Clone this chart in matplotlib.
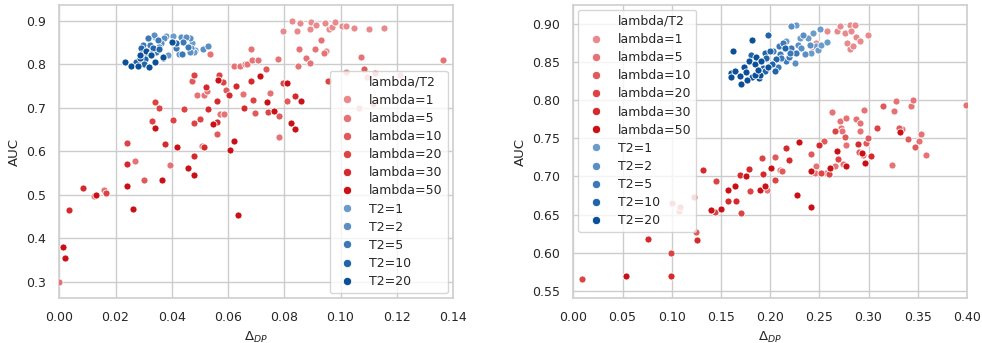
import matplotlib
matplotlib.use("Agg")
import matplotlib.pyplot as plt
from matplotlib.lines import Line2D
import seaborn as sns

# ---- data ----
lambda_levels = [1, 5, 10, 20, 30, 50]
t2_levels = [1, 2, 5, 10, 20]
lambda_colors = ["#e8898b", "#e67274", "#e0595b", "#dc4345", "#d42a2e", "#ca1017"]
t2_colors = ["#6b9bcb", "#5b8ec5", "#3a78b8", "#2164a8", "#0b4f97"]

# left panel, lambda runs
left_red_x = [0.000, 0.0014, 0.0021, 0.0035, 0.0084, 0.0130, 0.0125, 0.0158, 0.0167, 0.0240,
              0.0240, 0.0240, 0.0263, 0.0270, 0.0300, 0.0330, 0.0342, 0.0355, 0.0342, 0.0375,
              0.0365, 0.0393, 0.0404, 0.0417, 0.0445, 0.0457, 0.0472, 0.0478, 0.0479, 0.0480,
              0.0480, 0.0490, 0.0500, 0.0508, 0.0513, 0.0515, 0.0523, 0.0524, 0.0530, 0.0536,
              0.0547, 0.0562, 0.0563, 0.0562, 0.0561, 0.0568, 0.0570, 0.0582, 0.0586, 0.0594,
              0.0602, 0.0607, 0.0621, 0.0621, 0.0630, 0.0635, 0.0642, 0.0652, 0.0655, 0.0660,
              0.0681, 0.0669, 0.0685, 0.0708, 0.0683, 0.0714, 0.0735, 0.0690, 0.0695, 0.0738,
              0.0742, 0.0749, 0.0765, 0.0782, 0.0782, 0.0779, 0.0794, 0.0794, 0.0809, 0.0809,
              0.0825, 0.0837, 0.0838, 0.0859, 0.0828, 0.0846, 0.0856, 0.0851, 0.0848, 0.0876,
              0.0891, 0.0890, 0.0895, 0.0913, 0.0910, 0.0932, 0.0942, 0.0949, 0.0945, 0.0958,
              0.0968, 0.0982, 0.0954, 0.1007, 0.1021, 0.1047, 0.1100, 0.1156, 0.1073, 0.1082,
              0.1019, 0.1094, 0.1121, 0.1066, 0.1117, 0.1212, 0.1365]
left_red_y = [0.300, 0.380, 0.355, 0.465, 0.515, 0.500, 0.498, 0.510, 0.505, 0.620,
              0.570, 0.520, 0.468, 0.578, 0.535, 0.670, 0.713, 0.700, 0.653, 0.617,
              0.533, 0.568, 0.672, 0.611, 0.697, 0.562, 0.763, 0.776, 0.545, 0.590,
              0.665, 0.730, 0.675, 0.613, 0.610, 0.730, 0.748, 0.738, 0.697, 0.825,
              0.662, 0.715, 0.765, 0.667, 0.640, 0.776, 0.685, 0.760, 0.685, 0.742,
              0.730, 0.603, 0.623, 0.797, 0.751, 0.453, 0.797, 0.732, 0.699, 0.800,
              0.835, 0.802, 0.811, 0.811, 0.763, 0.774, 0.790, 0.717, 0.688, 0.713,
              0.690, 0.735, 0.693, 0.682, 0.633, 0.812, 0.877, 0.758, 0.757, 0.715,
              0.666, 0.651, 0.728, 0.715, 0.899, 0.877, 0.895, 0.835, 0.796, 0.815,
              0.803, 0.882, 0.897, 0.891, 0.835, 0.857, 0.826, 0.830, 0.895, 0.882,
              0.887, 0.897, 0.762, 0.889, 0.889, 0.885, 0.882, 0.885, 0.818, 0.790,
              0.783, 0.770, 0.780, 0.700, 0.710, 0.775, 0.810]
left_red_lam = [5, 50, 50, 30, 30, 50, 5, 5, 20, 20,
                30, 50, 50, 5, 10, 20, 20, 20, 50, 30,
                50, 5, 20, 50, 20, 50, 10, 20, 50, 30,
                20, 5, 20, 5, 30, 5, 30, 5, 30, 5,
                50, 30, 50, 30, 10, 20, 5, 20, 5, 10,
                30, 50, 50, 5, 30, 50, 5, 5, 30, 5,
                5, 5, 5, 5, 30, 50, 10, 20, 10, 50,
                20, 5, 50, 10, 5, 5, 1, 20, 50, 10,
                50, 50, 30, 50, 1, 1, 1, 5, 5, 5,
                5, 1, 1, 1, 5, 5, 5, 1, 1, 1,
                1, 1, 20, 1, 1, 1, 1, 1, 5, 10,
                1, 1, 5, 1, 5, 1, 5]

# left panel, T2 runs
left_blue_x = [0.0233, 0.0256, 0.0274, 0.0280, 0.0286, 0.0292, 0.0290, 0.0297, 0.0303, 0.0309,
               0.0319, 0.0315, 0.0321, 0.0327, 0.0333, 0.0339, 0.0342, 0.0350, 0.0356, 0.0368,
               0.0374, 0.0380, 0.0386, 0.0401, 0.0406, 0.0415, 0.0425, 0.0433, 0.0437, 0.0441,
               0.0457, 0.0469, 0.0466, 0.0484, 0.0510, 0.0527, 0.0316, 0.0336, 0.0431, 0.0451,
               0.0471, 0.0478, 0.0464, 0.0436, 0.0370, 0.0415, 0.0399, 0.0318, 0.0340, 0.0288,
               0.0325, 0.0354, 0.0300, 0.0290, 0.0310, 0.0345, 0.0360]
left_blue_y = [0.805, 0.797, 0.805, 0.797, 0.814, 0.825, 0.838, 0.845, 0.812, 0.831,
               0.794, 0.860, 0.845, 0.823, 0.837, 0.806, 0.864, 0.856, 0.841, 0.815,
               0.860, 0.866, 0.821, 0.852, 0.866, 0.837, 0.825, 0.864, 0.823, 0.852,
               0.841, 0.837, 0.860, 0.833, 0.835, 0.843, 0.862, 0.868, 0.864, 0.863,
               0.850, 0.828, 0.829, 0.825, 0.817, 0.850, 0.852, 0.793, 0.805, 0.822,
               0.822, 0.835, 0.800, 0.805, 0.818, 0.828, 0.850]
left_blue_t2 = [20, 20, 10, 20, 20, 20, 10, 5, 10, 20,
                20, 5, 5, 20, 10, 20, 2, 5, 5, 20,
                2, 1, 1, 20, 1, 5, 2, 2, 1, 5,
                5, 2, 2, 1, 2, 2, 5, 2, 2, 2,
                1, 1, 2, 5, 20, 10, 10, 20, 20, 20,
                20, 10, 10, 5, 5, 5, 2]

# right panel, lambda runs
right_red_x = [0.0085, 0.0534, 0.0761, 0.0988, 0.0991, 0.1001, 0.1069, 0.1082, 0.1231, 0.1245,
               0.1255, 0.1319, 0.1450, 0.1397, 0.1437, 0.1498, 0.1572, 0.1572, 0.1640, 0.1650,
               0.1700, 0.1697, 0.1752, 0.1785, 0.1799, 0.1893, 0.1917, 0.1927, 0.1951, 0.1968,
               0.2012, 0.2046, 0.2053, 0.2103, 0.2124, 0.2157, 0.2191, 0.2272, 0.2289, 0.2418,
               0.2418, 0.2418, 0.2469, 0.2451, 0.2495, 0.2515, 0.2546, 0.2563, 0.2603, 0.2607,
               0.2631, 0.2657, 0.2657, 0.2677, 0.2691, 0.2712, 0.2715, 0.2728, 0.2745, 0.2766,
               0.2763, 0.2773, 0.2773, 0.2874, 0.2891, 0.2901, 0.2915, 0.2918, 0.2935, 0.2940,
               0.2955, 0.2966, 0.2976, 0.2996, 0.3026, 0.3087, 0.3144, 0.3235, 0.3256, 0.3279,
               0.3313, 0.3316, 0.3340, 0.3401, 0.3432, 0.3452, 0.3475, 0.3516, 0.3530, 0.3587,
               0.3990, 0.2576, 0.2681, 0.2712, 0.2759, 0.2816, 0.2867, 0.2819, 0.2874, 0.2783,
               0.2816, 0.2914, 0.2996, 0.2840, 0.2470, 0.2440]
right_red_y = [0.566, 0.569, 0.618, 0.599, 0.569, 0.665, 0.655, 0.660, 0.673, 0.627,
               0.617, 0.708, 0.694, 0.656, 0.654, 0.657, 0.682, 0.668, 0.688, 0.668,
               0.652, 0.702, 0.700, 0.710, 0.681, 0.682, 0.724, 0.703, 0.687, 0.682,
               0.711, 0.695, 0.726, 0.709, 0.707, 0.738, 0.721, 0.676, 0.745, 0.729,
               0.707, 0.660, 0.714, 0.704, 0.741, 0.705, 0.747, 0.705, 0.703, 0.711,
               0.784, 0.760, 0.714, 0.734, 0.723, 0.773, 0.763, 0.759, 0.717, 0.714,
               0.752, 0.777, 0.741, 0.776, 0.742, 0.732, 0.760, 0.770, 0.731, 0.728,
               0.787, 0.718, 0.744, 0.750, 0.727, 0.764, 0.792, 0.715, 0.786, 0.799,
               0.764, 0.758, 0.762, 0.749, 0.793, 0.800, 0.739, 0.747, 0.756, 0.728,
               0.794, 0.891, 0.891, 0.897, 0.888, 0.899, 0.899, 0.891, 0.883, 0.875,
               0.867, 0.878, 0.885, 0.871, 0.875, 0.870]
right_red_lam = [20, 50, 30, 20, 30, 5, 5, 5, 10, 10,
                 30, 30, 20, 50, 20, 50, 50, 30, 50, 30,
                 20, 30, 50, 30, 20, 50, 20, 30, 50, 5,
                 50, 20, 10, 5, 10, 30, 30, 50, 50, 10,
                 50, 50, 5, 5, 30, 20, 10, 5, 20, 50,
                 5, 20, 5, 50, 20, 5, 5, 5, 5, 50,
                 10, 5, 5, 5, 30, 10, 5, 5, 50, 5,
                 5, 50, 10, 10, 30, 20, 10, 5, 5, 5,
                 10, 50, 5, 10, 5, 5, 10, 5, 5, 5,
                 5, 1, 1, 1, 1, 1, 1, 1, 1, 1,
                 1, 1, 1, 1, 1, 1]

# right panel, T2 runs
right_blue_x = [0.1623, 0.1820, 0.1982, 0.2215, 0.2266, 0.1600, 0.1606, 0.1647, 0.1708, 0.1734,
                0.1759, 0.1785, 0.1809, 0.1812, 0.1843, 0.1860, 0.1883, 0.1900, 0.1910, 0.1927,
                0.1944, 0.1961, 0.1978, 0.2028, 0.2046, 0.2056, 0.2079, 0.2089, 0.2096, 0.2130,
                0.2147, 0.2164, 0.2164, 0.2191, 0.2215, 0.2249, 0.2259, 0.2282, 0.2299, 0.2316,
                0.2333, 0.2350, 0.2384, 0.2401, 0.2418, 0.2434, 0.2461, 0.2485, 0.2509, 0.2519,
                0.1843, 0.1995, 0.2576, 0.1760, 0.1690, 0.1950, 0.2020, 0.2110, 0.1880, 0.2200]
right_blue_y = [0.865, 0.879, 0.886, 0.897, 0.899, 0.836, 0.830, 0.838, 0.821, 0.843,
                0.837, 0.852, 0.859, 0.831, 0.847, 0.857, 0.829, 0.833, 0.851, 0.842,
                0.862, 0.855, 0.843, 0.864, 0.838, 0.854, 0.844, 0.871, 0.860, 0.875,
                0.868, 0.878, 0.851, 0.857, 0.868, 0.849, 0.862, 0.872, 0.882, 0.868,
                0.885, 0.861, 0.882, 0.873, 0.862, 0.888, 0.871, 0.866, 0.893, 0.873,
                0.833, 0.864, 0.876, 0.826, 0.832, 0.838, 0.848, 0.856, 0.840, 0.862]
right_blue_t2 = [20, 20, 10, 2, 1, 20, 20, 20, 20, 20,
                 20, 20, 10, 20, 20, 20, 20, 20, 20, 10,
                 10, 10, 20, 5, 10, 10, 5, 5, 5, 5,
                 10, 1, 5, 5, 5, 2, 5, 2, 1, 2,
                 2, 2, 1, 2, 1, 1, 1, 1, 1, 1,
                 20, 10, 1, 20, 20, 10, 10, 5, 20, 5]

# ---- style ----
sns.set_theme(style="whitegrid")
plt.rcParams["font.family"] = ["DejaVu Sans"]
plt.rcParams["xtick.labelsize"] = 9
plt.rcParams["ytick.labelsize"] = 9
plt.rcParams["axes.labelsize"] = 9.5

fig = plt.figure(figsize=(9.82, 3.43), dpi=100)
ax1 = fig.add_axes([0.0604, 0.131, 0.4009, 0.8546])
ax2 = fig.add_axes([0.5838, 0.131, 0.4009, 0.8546])


def draw_panel(ax, rx, ry, rlam, bx, by, bt2):
    for lam, col in zip(lambda_levels, lambda_colors):
        xs = [x for x, l in zip(rx, rlam) if l == lam]
        ys = [y for y, l in zip(ry, rlam) if l == lam]
        ax.scatter(xs, ys, s=26, color=col, edgecolor="white", linewidth=0.6, zorder=3)
    for t2, col in zip(t2_levels, t2_colors):
        xs = [x for x, t in zip(bx, bt2) if t == t2]
        ys = [y for y, t in zip(by, bt2) if t == t2]
        ax.scatter(xs, ys, s=26, color=col, edgecolor="white", linewidth=0.6, zorder=3)
    ax.set_xlabel(r"$\Delta_{DP}$")
    ax.set_ylabel("AUC")
    for sp in ax.spines.values():
        sp.set_color("#d0d0d0")


def make_legend(ax, loc):
    handles = [Line2D([], [], linestyle="none")]
    labels = ["lambda/T2"]
    for lam, col in zip(lambda_levels, lambda_colors):
        handles.append(Line2D([], [], marker="o", linestyle="none", markersize=6,
                              markerfacecolor=col, markeredgecolor="white", markeredgewidth=0.6))
        labels.append(f"lambda={lam}")
    for t2, col in zip(t2_levels, t2_colors):
        handles.append(Line2D([], [], marker="o", linestyle="none", markersize=6,
                              markerfacecolor=col, markeredgecolor="white", markeredgewidth=0.6))
        labels.append(f"T2={t2}")
    leg = ax.legend(handles, labels, loc=loc, fontsize=9, framealpha=0.8,
                    labelspacing=0.41, handletextpad=0.75, borderaxespad=0.4)
    leg.set_zorder(5)


draw_panel(ax1, left_red_x, left_red_y, left_red_lam, left_blue_x, left_blue_y, left_blue_t2)
ax1.set_xlim(0, 0.14)
ax1.set_ylim(0.262, 0.937)
ax1.set_xticks([0.00, 0.02, 0.04, 0.06, 0.08, 0.10, 0.12, 0.14])
ax1.set_xticklabels(["0.00", "0.02", "0.04", "0.06", "0.08", "0.10", "0.12", "0.14"])
ax1.set_yticks([0.3, 0.4, 0.5, 0.6, 0.7, 0.8, 0.9])
make_legend(ax1, "lower right")

draw_panel(ax2, right_red_x, right_red_y, right_red_lam, right_blue_x, right_blue_y, right_blue_t2)
ax2.set_xlim(0, 0.40)
ax2.set_ylim(0.5405, 0.925)
ax2.set_xticks([0.00, 0.05, 0.10, 0.15, 0.20, 0.25, 0.30, 0.35, 0.40])
ax2.set_xticklabels(["0.00", "0.05", "0.10", "0.15", "0.20", "0.25", "0.30", "0.35", "0.40"])
ax2.set_yticks([0.55, 0.60, 0.65, 0.70, 0.75, 0.80, 0.85, 0.90])
ax2.set_yticklabels(["0.55", "0.60", "0.65", "0.70", "0.75", "0.80", "0.85", "0.90"])
make_legend(ax2, "upper left")

fig.savefig("out.png", dpi=100)
